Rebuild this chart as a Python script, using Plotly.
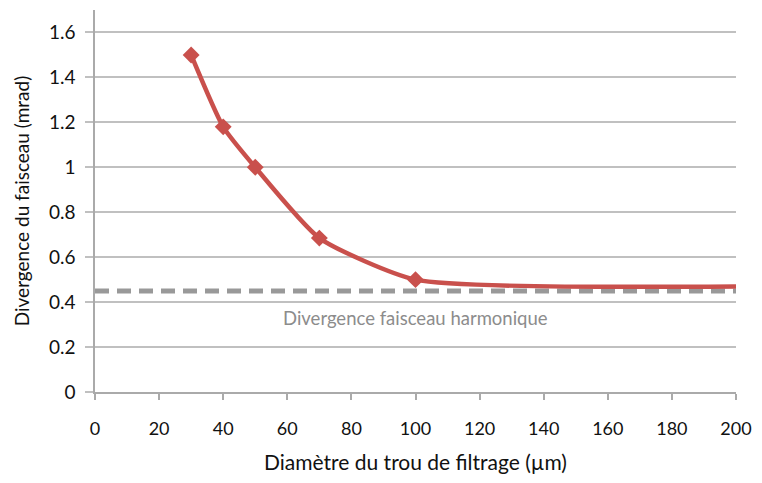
import plotly.graph_objects as go

# Measured beam divergence vs. filtering pinhole diameter
diametre_um = [30, 40, 50, 70, 100, 200]
divergence_mrad = [1.5, 1.18, 1.0, 0.685, 0.5, 0.47]
marker_sizes = [13, 13, 13, 13, 13, 0]

# Harmonic beam divergence reference level
harmonique_x = [0, 200]
harmonique_y = [0.45, 0.45]

x_ticks = list(range(0, 201, 20))
y_ticks = [0, 0.2, 0.4, 0.6, 0.8, 1.0, 1.2, 1.4, 1.6]
y_tick_text = ["0", "0.2", "0.4", "0.6", "0.8", "1", "1.2", "1.4", "1.6"]

font_family = "Lato, Open Sans, sans-serif"
grid_color = "#c0c0c0"

fig = go.Figure()

fig.add_trace(go.Scatter(
    x=harmonique_x, y=harmonique_y, mode="lines",
    line=dict(color="#999999", width=5, dash="14px,8px"),
    hoverinfo="skip", showlegend=False,
))

fig.add_trace(go.Scatter(
    x=diametre_um, y=divergence_mrad, mode="lines+markers",
    line=dict(color="#c9504c", width=4.5, shape="spline", smoothing=0.55),
    marker=dict(symbol="diamond", size=marker_sizes, color="#c9504c",
                opacity=1, line=dict(width=0)),
    showlegend=False,
))

fig.add_annotation(
    x=100, y=0.33, xref="x", yref="y",
    text="Divergence faisceau harmonique", showarrow=False,
    font=dict(family=font_family, size=18.5, color="#8c8c8c"),
)

fig.update_layout(
    width=762, height=483,
    margin=dict(l=95, r=20, t=10, b=91),
    paper_bgcolor="white", plot_bgcolor="white",
    font=dict(family=font_family, color="#111111"),
    xaxis=dict(
        range=[0, 200], tickmode="array", tickvals=x_ticks,
        showgrid=False, zeroline=False,
        showline=True, linecolor="#aaaaaa", linewidth=1.5,
        ticks="outside", ticklen=6, tickcolor="#aaaaaa", tickwidth=1.5,
        tickfont=dict(size=18), ticklabelstandoff=14,
        title=dict(text="Diamètre du trou de filtrage (µm)",
                   font=dict(size=21), standoff=17),
    ),
    yaxis=dict(
        range=[0, 1.7], tickmode="array", tickvals=y_ticks, ticktext=y_tick_text,
        showgrid=True, gridcolor=grid_color, gridwidth=1.5, zeroline=False,
        showline=True, linecolor="#aaaaaa", linewidth=1.5,
        ticks="outside", ticklen=8, tickcolor=grid_color, tickwidth=1.5,
        tickfont=dict(size=19), ticklabelstandoff=6,
        title=dict(text="Divergence du faisceau (mrad)",
                   font=dict(size=19), standoff=14),
    ),
)

fig.write_html("out.html")
